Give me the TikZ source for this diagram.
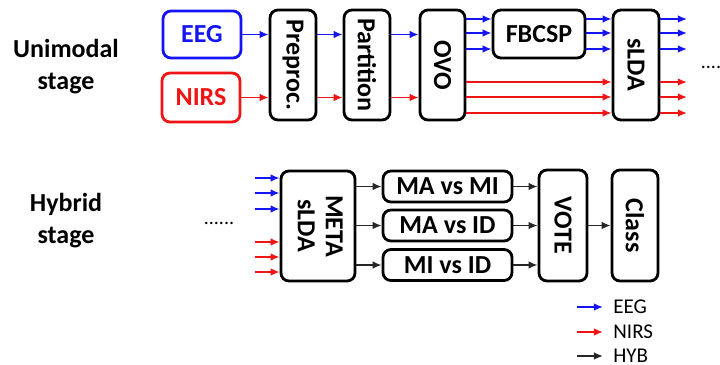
\documentclass[tikz,border=0pt]{standalone}
\usepackage{fontspec}
\setmainfont{Carlito}
\usepackage{graphicx}
\usepackage{xcolor}
\usetikzlibrary{arrows.meta,positioning,calc}

\definecolor{eegblue}{RGB}{20,20,245}
\definecolor{nirsred}{RGB}{240,20,20}
\newcommand{\vtext}[1]{\rotatebox{-90}{#1}}

\tikzset{
  blk/.style={draw=black,line width=1.4pt,rounded corners=4pt,inner sep=0pt,
    font=\fontsize{13}{15}\selectfont\bfseries},
  tall/.style={blk,minimum width=23pt,minimum height=55pt},
  wide/.style={blk,minimum width=64.5pt,minimum height=15.5pt},
  arr/.style={-{Latex[length=4.5pt,width=3.8pt]},line width=0.8pt},
  eegarr/.style={arr,draw=eegblue},
  nirsarr/.style={arr,draw=nirsred},
  hybarr/.style={arr,draw=black!85},
  stagelbl/.style={align=center,font=\fontsize{13}{16}\selectfont\bfseries},
  legtxt/.style={anchor=west,inner sep=5pt,font=\fontsize{10.5}{12}\selectfont}
}

\begin{document}
\begin{tikzpicture}[x=0.5pt,y=-0.5pt]
\useasboundingbox (0,0) rectangle (720,365);

% stage labels
\node[stagelbl] (uni) at (66,67) {Unimodal\\stage};
\node[stagelbl] (hyb) at (66,221) {Hybrid\\stage};

% unimodal stage
\node[blk,draw=eegblue,text=eegblue,minimum width=39pt,minimum height=23.5pt] (eeg) at (202,34.5) {EEG};
\node[blk,draw=nirsred,text=nirsred,minimum width=39pt,minimum height=24.5pt] (nirs) at (201,97.5) {NIRS};
\node[tall] (prep) at (293,65) {\vtext{Preproc.}};
\node[tall] (part) at (367,65) {\vtext{Partition}};
\node[tall,minimum width=22.5pt] (ovo) at (442.5,65) {\vtext{OVO}};
\node[blk,minimum width=46pt,minimum height=24pt] (fbcsp) at (539,34) {FBCSP};
\node[tall] (slda) at (636,65) {\vtext{sLDA}};
\node (dots1) at (711,67) {....};

\coordinate (b1) at (0,19);
\coordinate (b2) at (0,33);
\coordinate (b3) at (0,49);
\coordinate (r1) at (0,82);
\coordinate (r2) at (0,97);
\coordinate (r3) at (0,113);
\coordinate (outend) at (687,0);

\draw[eegarr] (eeg) -- (prep.west |- eeg);
\draw[nirsarr] (nirs) -- (prep.west |- nirs);
\draw[eegarr] (prep.east |- eeg) -- (part.west |- eeg);
\draw[nirsarr] (prep.east |- nirs) -- (part.west |- nirs);
\draw[eegarr] (part.east |- eeg) -- (ovo.west |- eeg);
\draw[nirsarr] (part.east |- nirs) -- (ovo.west |- nirs);
\foreach \c in {b1,b2,b3} {
  \draw[eegarr] (ovo.east |- \c) -- (fbcsp.west |- \c);
  \draw[eegarr] (fbcsp.east |- \c) -- (slda.west |- \c);
  \draw[eegarr] (slda.east |- \c) -- (outend |- \c);
}
\foreach \c in {r1,r2,r3} {
  \draw[nirsarr] (ovo.east |- \c) -- (slda.west |- \c);
  \draw[nirsarr] (slda.east |- \c) -- (outend |- \c);
}

% hybrid stage
\node (dots2) at (219,223) {......};
\node[blk,minimum width=37pt,minimum height=55pt] (meta) at (318,226)
  {\vtext{\begin{tabular}{@{}c@{}}META\\[-1pt]sLDA\end{tabular}}};
\node[wide] (mami) at (447.5,186.5) {MA vs MI};
\node[wide] (maid) at (447.5,225.5) {MA vs ID};
\node[wide] (miid) at (447.5,265) {MI vs ID};
\node[blk,minimum width=24pt,minimum height=55.5pt] (vote) at (563,225.5) {\vtext{VOTE}};
\node[tall,minimum height=55.5pt] (class) at (635,225.5) {\vtext{Class}};

\coordinate (instart) at (255,0);
\foreach \y in {178,193,209} \coordinate (hb\y) at (0,\y);
\foreach \y in {242,257,272} \coordinate (hr\y) at (0,\y);
\foreach \y in {178,193,209} \draw[eegarr] (instart |- hb\y) -- (meta.west |- hb\y);
\foreach \y in {242,257,272} \draw[nirsarr] (instart |- hr\y) -- (meta.west |- hr\y);

\foreach \n in {mami,maid,miid} {
  \draw[hybarr] (meta.east |- \n) -- (\n);
  \draw[hybarr] (\n) -- (vote.west |- \n);
}
\draw[hybarr] (vote) -- (class);

% legend
\coordinate (lg1) at (577,307);
\coordinate (lg2) at (577,332);
\coordinate (lg3) at (577,356);
\node[legtxt] (lgeeg) at (603,307) {EEG};
\node[legtxt] (lgnirs) at (603,332) {NIRS};
\node[legtxt] (lghyb) at (603,356) {HYB};
\draw[eegarr] (lg1) -- (lgeeg.west);
\draw[nirsarr] (lg2) -- (lgnirs.west);
\draw[hybarr] (lg3) -- (lghyb.west);
\end{tikzpicture}
\end{document}
